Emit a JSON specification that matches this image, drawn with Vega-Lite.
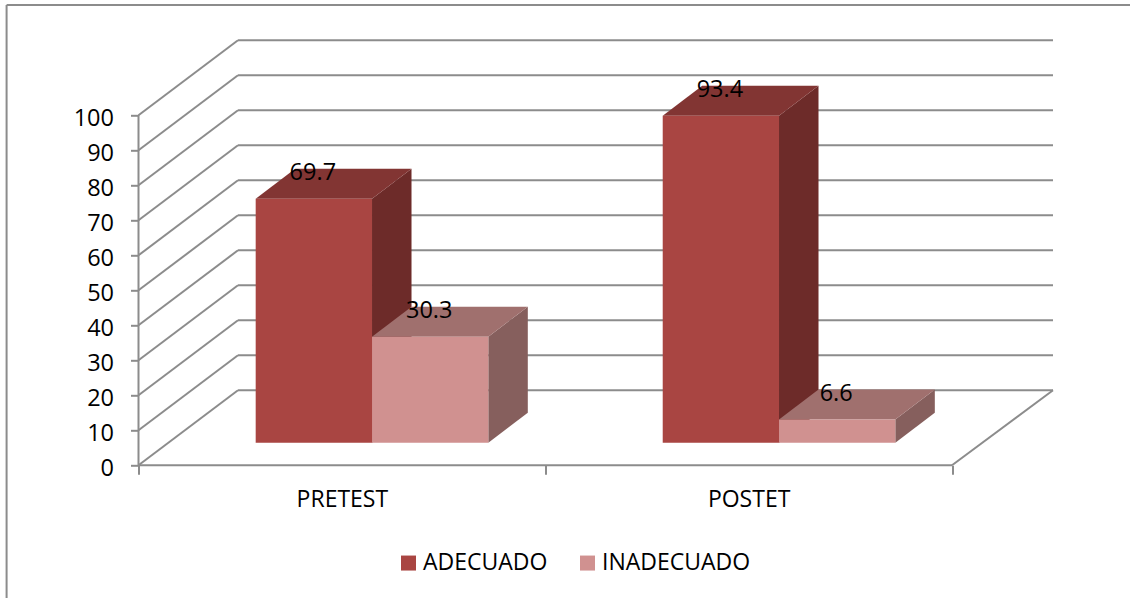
{"$schema":"https://vega.github.io/schema/vega-lite/v6.json","width":914.5,"height":425,"autosize":{"type":"none"},"padding":{"left":138.5,"top":40.3,"right":77,"bottom":132.7},"background":"white","view":{"stroke":null},"config":{"font":"Open Sans"},"datasets":{"lineas":[{"x":0,"y":0,"x2":0.2446,"y2":21.43},{"x":0,"y":10,"x2":0.2446,"y2":31.43},{"x":0,"y":20,"x2":0.2446,"y2":41.43},{"x":0,"y":30,"x2":0.2446,"y2":51.43},{"x":0,"y":40,"x2":0.2446,"y2":61.43},{"x":0,"y":50,"x2":0.2446,"y2":71.43},{"x":0,"y":60,"x2":0.2446,"y2":81.43},{"x":0,"y":70,"x2":0.2446,"y2":91.43},{"x":0,"y":80,"x2":0.2446,"y2":101.43},{"x":0,"y":90,"x2":0.2446,"y2":111.43},{"x":0,"y":100,"x2":0.2446,"y2":121.43},{"x":0.2446,"y":21.43,"x2":2.2483,"y2":21.43},{"x":0.2446,"y":31.43,"x2":2.2483,"y2":31.43},{"x":0.2446,"y":41.43,"x2":2.2483,"y2":41.43},{"x":0.2446,"y":51.43,"x2":2.2483,"y2":51.43},{"x":0.2446,"y":61.43,"x2":2.2483,"y2":61.43},{"x":0.2446,"y":71.43,"x2":2.2483,"y2":71.43},{"x":0.2446,"y":81.43,"x2":2.2483,"y2":81.43},{"x":0.2446,"y":91.43,"x2":2.2483,"y2":91.43},{"x":0.2446,"y":101.43,"x2":2.2483,"y2":101.43},{"x":0.2446,"y":111.43,"x2":2.2483,"y2":111.43},{"x":0.2446,"y":121.43,"x2":2.2483,"y2":121.43},{"x":0,"y":0,"x2":2,"y2":0},{"x":2,"y":0,"x2":2.2483,"y2":21.43},{"x":0,"y":0,"x2":0,"y2":100},{"x":-0.3243,"y":131.5,"x2":2.4376,"y2":131.5},{"x":-0.3243,"y":131.5,"x2":-0.3243,"y2":-37.9}],"laterales":[{"barra":"A1","tono":"ADECUADO lateral","x":0.5741,"y":76.16,"y2":6.46},{"barra":"A1","tono":"ADECUADO lateral","x":0.6712,"y":84.73,"y2":15.03},{"barra":"I1","tono":"INADECUADO lateral","x":0.86,"y":36.76,"y2":6.46},{"barra":"I1","tono":"INADECUADO lateral","x":0.9571,"y":45.33,"y2":15.03},{"barra":"A2","tono":"ADECUADO lateral","x":1.5747,"y":99.86,"y2":6.46},{"barra":"A2","tono":"ADECUADO lateral","x":1.6718,"y":108.43,"y2":15.03},{"barra":"I2","tono":"INADECUADO lateral","x":1.8606,"y":13.06,"y2":6.46},{"barra":"I2","tono":"INADECUADO lateral","x":1.9577,"y":21.63,"y2":15.03}],"superiores":[{"barra":"A1","tono":"ADECUADO superior","y":76.16,"x":0.2881,"x2":0.5741},{"barra":"A1","tono":"ADECUADO superior","y":84.73,"x":0.3852,"x2":0.6712},{"barra":"I1","tono":"INADECUADO superior","y":36.76,"x":0.5741,"x2":0.86},{"barra":"I1","tono":"INADECUADO superior","y":45.33,"x":0.6712,"x2":0.9571},{"barra":"A2","tono":"ADECUADO superior","y":99.86,"x":1.2888,"x2":1.5747},{"barra":"A2","tono":"ADECUADO superior","y":108.43,"x":1.3859,"x2":1.6718},{"barra":"I2","tono":"INADECUADO superior","y":13.06,"x":1.5747,"x2":1.8606},{"barra":"I2","tono":"INADECUADO superior","y":21.63,"x":1.6718,"x2":1.9577}],"barras":[{"grupo":"PRETEST","tono":"ADECUADO","valor":69.7,"x":0.2881,"x2":0.5741,"xc":0.4311,"y":76.16,"y2":6.46},{"grupo":"PRETEST","tono":"INADECUADO","valor":30.3,"x":0.5741,"x2":0.86,"xc":0.7171,"y":36.76,"y2":6.46},{"grupo":"POSTET","tono":"ADECUADO","valor":93.4,"x":1.2888,"x2":1.5747,"xc":1.4318,"y":99.86,"y2":6.46},{"grupo":"POSTET","tono":"INADECUADO","valor":6.6,"x":1.5747,"x2":1.8606,"xc":1.7177,"y":13.06,"y2":6.46}]},"encoding":{"x":{"field":"x","type":"quantitative","scale":{"domain":[0,2.2483],"nice":false,"zero":false},"axis":{"title":null,"values":[0,0.5,1,1.5,2],"domain":false,"grid":false,"tickSize":9,"tickWidth":2,"tickColor":"#8c8c8c","tickOpacity":{"condition":{"test":"datum.value === 0 || datum.value === 1 || datum.value === 2","value":1},"value":0},"labelExpr":"datum.value === 0.5 ? 'PRETEST' : datum.value === 1.5 ? 'POSTET' : ''","labelFontSize":23,"labelColor":"#000000","labelPadding":14,"labelOverlap":false,"labelFlush":false,"labelFont":"Open Sans"}},"y":{"field":"y","type":"quantitative","scale":{"domain":[0,121.43],"nice":false,"zero":false},"axis":{"title":null,"values":[0,10,20,30,40,50,60,70,80,90,100],"domain":false,"grid":false,"tickSize":8,"tickWidth":2,"tickColor":"#8c8c8c","labelFontSize":23.5,"labelColor":"#000000","labelPadding":17,"labelOffset":3,"labelOverlap":false,"labelFlush":false,"labelFont":"Open Sans"}}},"layer":[{"data":{"name":"lineas"},"mark":{"type":"rule","color":"#8c8c8c","strokeWidth":2},"encoding":{"x2":{"field":"x2"},"y2":{"field":"y2"}}},{"data":{"name":"laterales"},"mark":{"type":"area","orient":"vertical","opacity":1},"encoding":{"y2":{"field":"y2"},"detail":{"field":"barra"},"color":{"field":"tono","type":"nominal"}}},{"data":{"name":"superiores"},"mark":{"type":"area","orient":"horizontal","opacity":1},"encoding":{"x2":{"field":"x2"},"detail":{"field":"barra"},"color":{"field":"tono","type":"nominal"}}},{"data":{"name":"barras"},"mark":{"type":"rect","opacity":1},"encoding":{"x2":{"field":"x2"},"y2":{"field":"y2"},"color":{"field":"tono","type":"nominal","scale":{"domain":["ADECUADO","INADECUADO","ADECUADO lateral","INADECUADO lateral","ADECUADO superior","INADECUADO superior"],"range":["#a94542","#d09190","#6d2b29","#865f5d","#823533","#a0706e"]},"legend":{"title":null,"values":["ADECUADO","INADECUADO"],"orient":"none","legendX":258.5,"legendY":511,"direction":"horizontal","columns":2,"symbolType":"square","symbolSize":225,"symbolStrokeWidth":0,"symbolOpacity":1,"labelFontSize":23,"labelColor":"#000000","labelOffset":3,"columnPadding":28,"padding":0,"labelFont":"Open Sans"}}}},{"data":{"name":"barras"},"mark":{"type":"text","fontSize":23.5,"color":"#000000","baseline":"middle","align":"center","dy":-26,"dx":-1,"font":"Open Sans"},"encoding":{"x":{"field":"xc","type":"quantitative"},"text":{"field":"valor","type":"quantitative","format":".1f"}}}]}
